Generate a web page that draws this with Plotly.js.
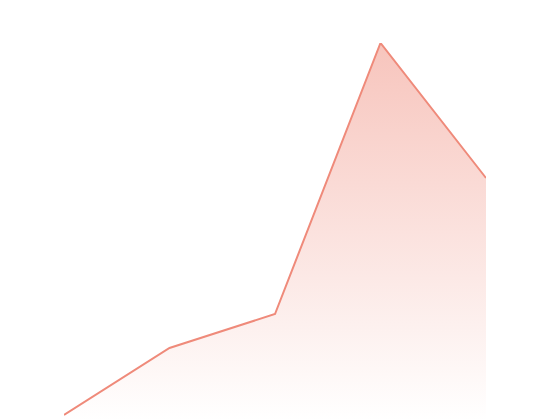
<!DOCTYPE html>
<html>
<head>
<meta charset="utf-8">
<script src="https://cdn.plot.ly/plotly-3.0.1.min.js"></script>
<style>html,body{margin:0;padding:0;background:#fff;}#chart{width:550px;height:420px;}</style>
</head>
<body>
<div id="chart"></div>
<script>
var categories = ["A", "B", "C", "D", "E"];
var values = [5, 72, 106, 377, 242];

var trace = {
  x: categories,
  y: values,
  type: "scatter",
  mode: "lines",
  line: {color: "#ef8a7a", width: 2},
  fill: "tozeroy",
  fillgradient: {
    type: "vertical",
    start: 0,
    stop: 377,
    colorscale: [[0, "rgba(239,138,122,0)"], [1, "rgba(239,138,122,0.5)"]]
  },
  hoverinfo: "skip"
};

var layout = {
  width: 550,
  height: 420,
  margin: {l: 64, r: 64, t: 43, b: 0},
  paper_bgcolor: "#ffffff",
  plot_bgcolor: "#ffffff",
  showlegend: false,
  xaxis: {visible: false, range: [0, 4], type: "category"},
  yaxis: {visible: false, range: [0, 377], fixedrange: true}
};

Plotly.newPlot("chart", [trace], layout, {displayModeBar: false, staticPlot: true});
</script>
</body>
</html>
